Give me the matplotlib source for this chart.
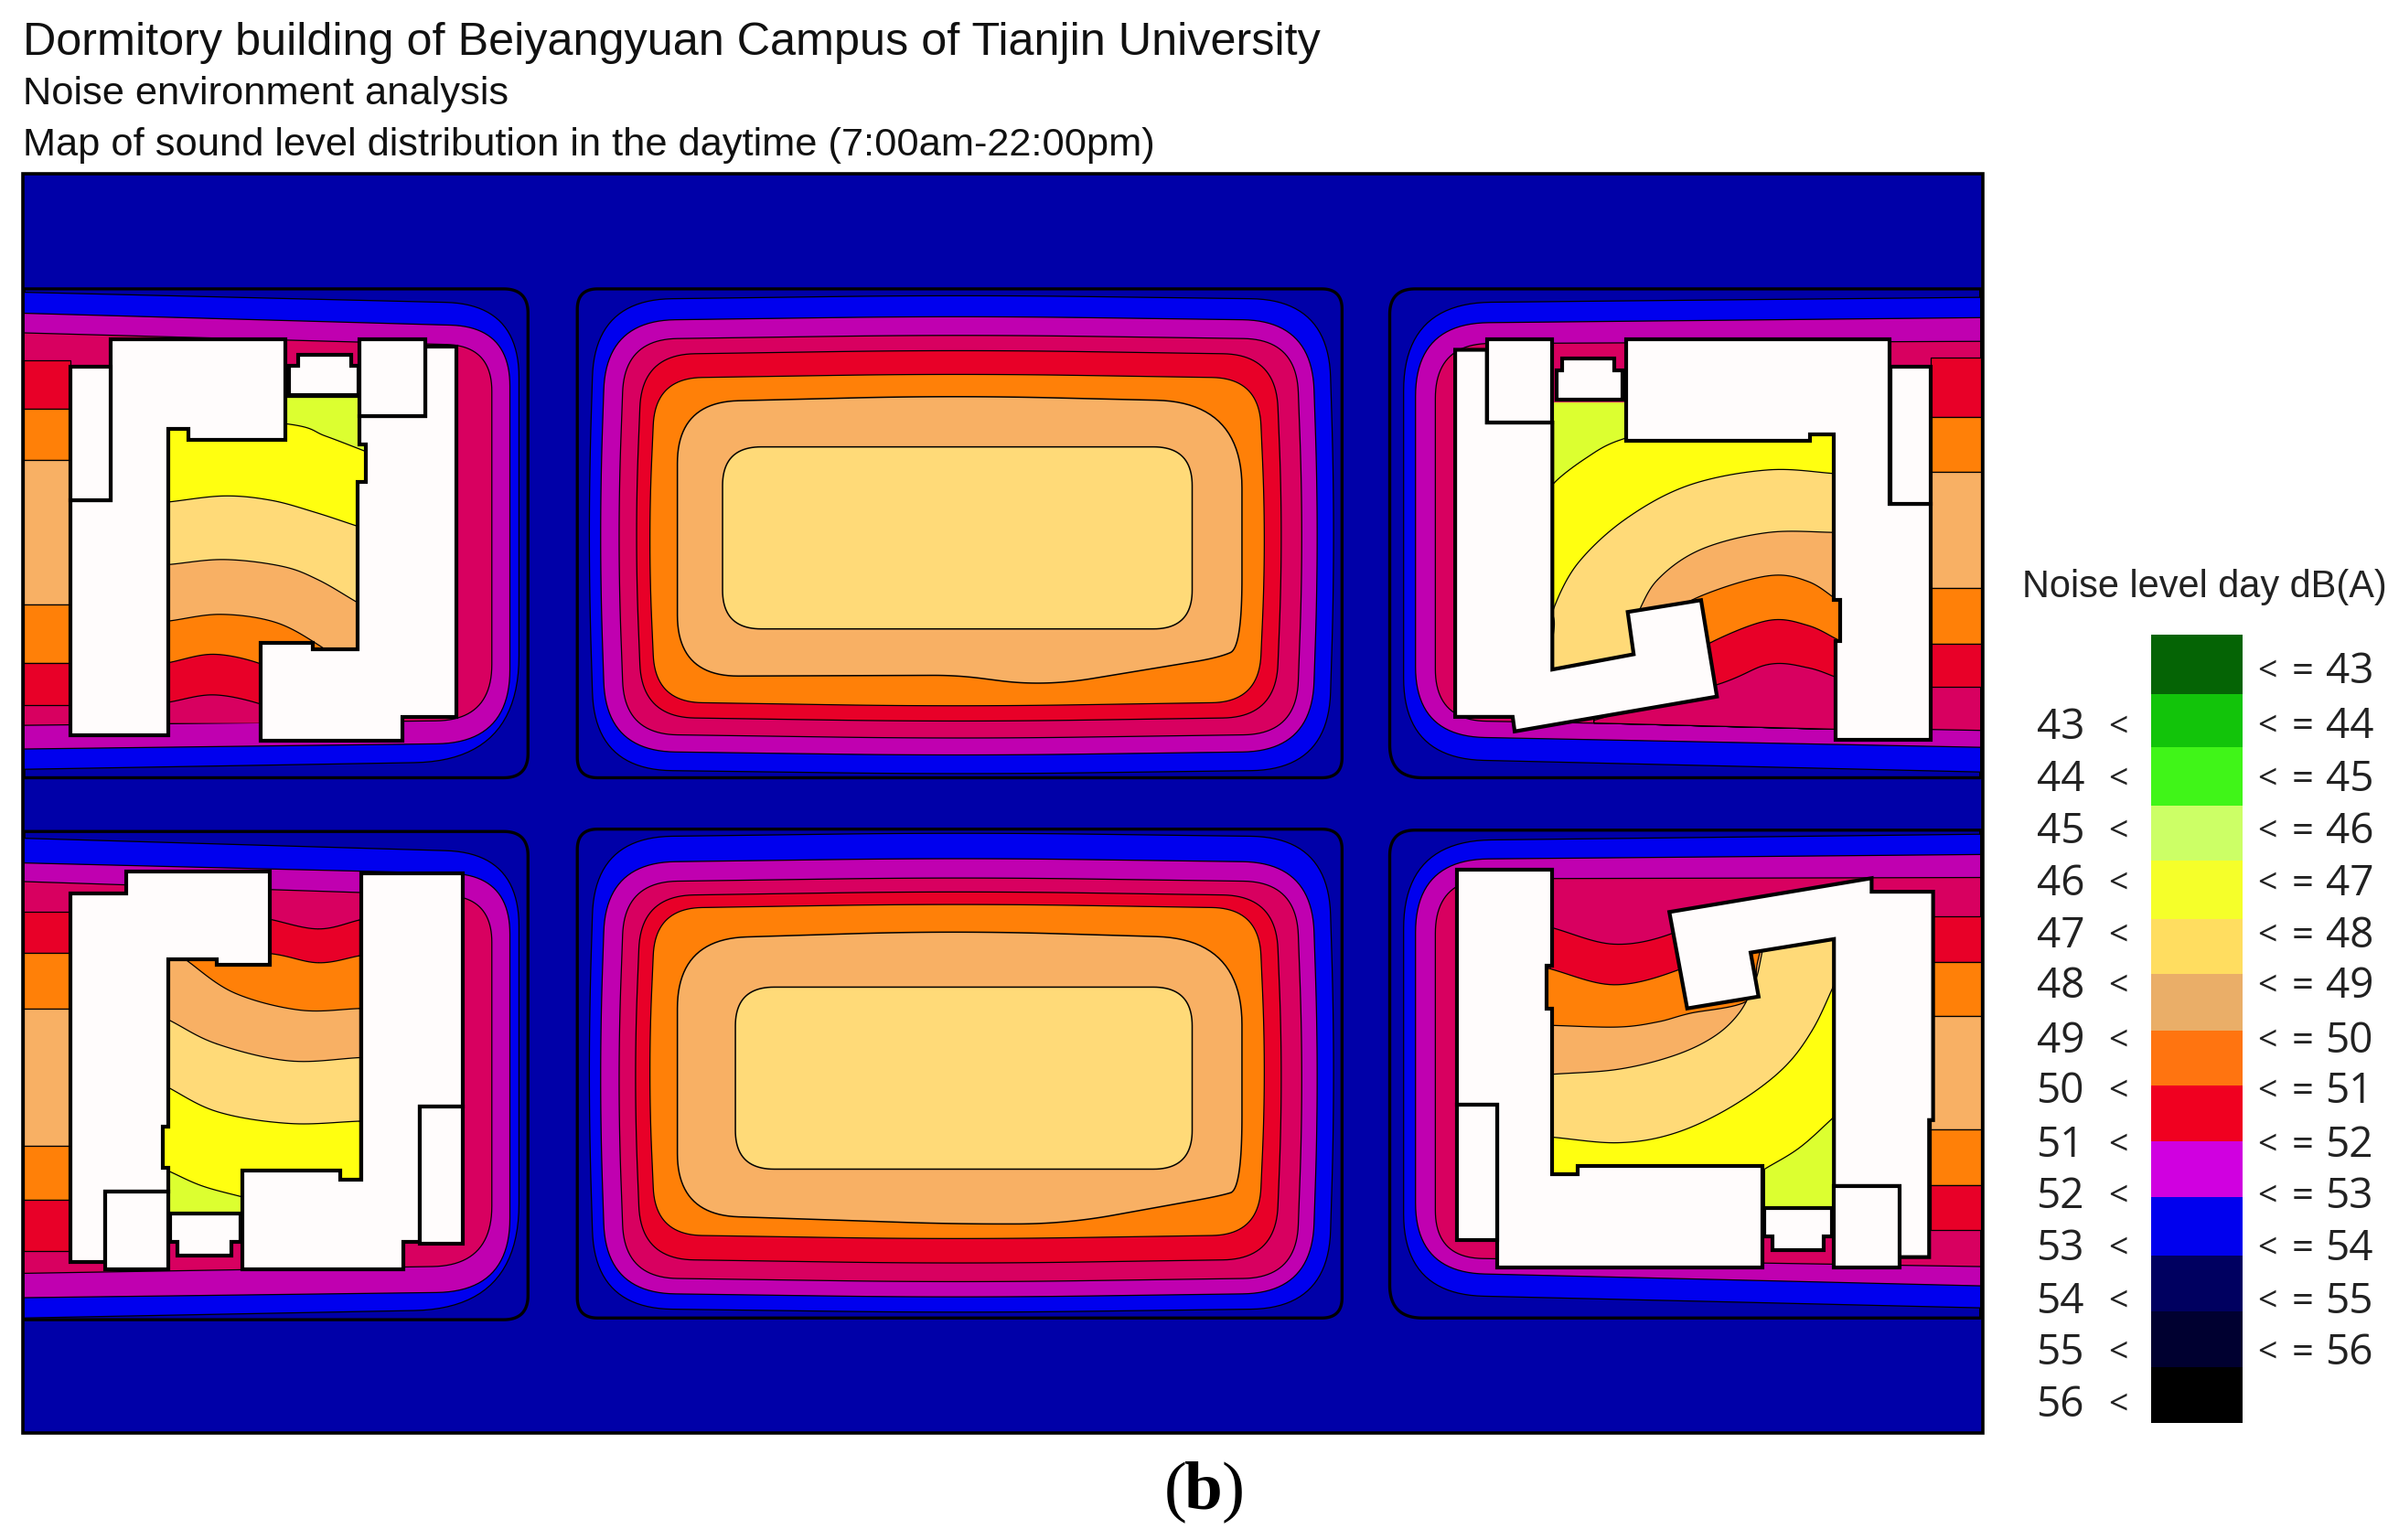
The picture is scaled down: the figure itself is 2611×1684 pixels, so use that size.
# ------------------ 1. IMPORT LIBRARIES ------------------
import numpy as np
import matplotlib
matplotlib.use("Agg")
import matplotlib.pyplot as plt
from matplotlib.patches import Rectangle

# ------------------ 2. COLOURS ------------------
BASE = "#0000A8"
BLUE = "#0000EE"
PURPLE = "#C000B0"
CRIMSON = "#D80060"
RED = "#E80028"
ORANGE = "#FF8008"
TAN = "#F8B064"
PALE = "#FFDA78"
YELLOW = "#FFFF10"
LIME = "#DCFF30"
WHITE = "#FFFCFC"

# ------------------ 3. DATA (crop coordinates, one crop for each block) ------------------
# crop = left, top, x scale, y scale
crop_tl = (0, 290, 2.529, 2.703)
crop_tr = (1500, 290, 2.306, 2.703)
crop_bl = (0, 890, 2.529, 2.703)
crop_br = (1500, 890, 2.306, 2.703)
crop_tm = (620, 290, 1.782, 2.703)
crop_bm = (620, 890, 1.782, 2.703)

map_frame = (25, 190, 2168, 1567)

# outer zones, (x, y, corner radius)
tl_block = [(66, 70), (1460, 70, 70), (1460, 1515, 70), (66, 1515)]
tl_blue = [(66, 80), (1435, 115, 210), (1435, 1465, 300), (66, 1490)]
tl_purple = [(66, 142), (1410, 182, 170), (1410, 1412, 210), (66, 1430)]
tl_crimson = [(66, 200), (1360, 238, 130), (1360, 1345, 160), (66, 1360)]
tl_strip_y = [280, 425, 575, 1003, 1175, 1300]
tl_strip_c = [RED, ORANGE, TAN, ORANGE, RED]

tr_block = [(1535, 70), (45, 70, 70), (45, 1515, 90), (1535, 1515)]
tr_blue = [(1535, 95), (80, 112, 240), (80, 1458, 220), (1535, 1498)]
tr_purple = [(1535, 155), (110, 172, 200), (110, 1392, 190), (1535, 1425)]
tr_crimson = [(1535, 225), (160, 232, 150), (160, 1345, 140), (1535, 1375)]
tr_strip_y = [272, 450, 612, 955, 1120, 1245]
tr_strip_c = [RED, ORANGE, TAN, ORANGE, RED]

bl_block = [(66, 52), (1460, 52, 70), (1460, 1495, 70), (66, 1495)]
bl_blue = [(66, 72), (1435, 115, 210), (1435, 1462, 300), (66, 1490)]
bl_purple = [(66, 145), (1410, 180, 170), (1410, 1412, 210), (66, 1430)]
bl_crimson = [(66, 200), (1360, 245, 130), (1360, 1335, 170), (66, 1358)]
bl_strip_y = [288, 412, 575, 980, 1142, 1293]
bl_strip_c = [RED, ORANGE, TAN, ORANGE, RED]

br_block = [(1535, 48), (45, 48, 70), (45, 1490, 90), (1535, 1490)]
br_blue = [(1535, 60), (80, 80, 240), (80, 1420, 220), (1535, 1460)]
br_purple = [(1535, 120), (110, 135, 200), (110, 1355, 190), (1535, 1395)]
br_crimson = [(1535, 188), (160, 192, 150), (160, 1312, 130), (1535, 1338)]
br_strip_y = [302, 437, 598, 932, 1097, 1230]
br_strip_c = [RED, ORANGE, TAN, ORANGE, RED]

# courtyard curves, each colour fills from its curve down to the yard bottom
# yard = x0, y0, x1, bottom at x1, bottom at x0
tl_yard = (465, 390, 1015, 1355, 1355)
tl_curves = [
    (LIME, [(465, 390), (1015, 390)]),
    (YELLOW, [(465, 440), (800, 470), (900, 505), (1015, 552)]),
    (PALE, [(465, 700), (620, 682), (750, 695), (870, 730), (990, 772)]),
    (TAN, [(465, 885), (620, 870), (780, 890), (880, 930), (990, 998)]),
    (ORANGE, [(465, 1052), (610, 1032), (760, 1055), (880, 1122), (990, 1210)]),
    (RED, [(465, 1175), (590, 1150), (720, 1178), (800, 1230)]),
    (CRIMSON, [(465, 1292), (590, 1270), (720, 1297), (800, 1340)]),
]

tr_yard = (455, 405, 1180, 1372, 1350)
tr_curves = [
    (LIME, [(560, 1300), (455, 1200), (455, 405), (1180, 405)]),
    (YELLOW, [(560, 1300), (455, 1200), (455, 700), (455, 650), (540, 570), (630, 515), (800, 470), (1180, 470)]),
    (PALE, [(560, 1300), (460, 1200), (460, 1060), (460, 1010), (520, 880), (640, 750), (800, 650), (1000, 605),
            (1180, 617)]),
    (TAN, [(665, 1040), (720, 930), (830, 840), (1000, 790), (1180, 790)]),
    (ORANGE, [(700, 1060), (835, 975), (1000, 918), (1100, 935), (1180, 995)]),
    (RED, [(780, 1180), (855, 1115), (1000, 1050), (1100, 1065), (1180, 1110)]),
    (CRIMSON, [(560, 1345), (870, 1240), (1000, 1180), (1100, 1190), (1180, 1222)]),
]

bl_yard = (450, 200, 995, 1180, 1180)
bl_curves = [
    (RED, [(740, 310), (880, 340), (1000, 312)]),
    (ORANGE, [(520, 405), (740, 412), (880, 440), (1000, 418)]),
    (TAN, [(460, 380), (525, 440), (650, 530), (830, 580), (1000, 575)]),
    (PALE, [(465, 608), (600, 680), (800, 730), (1000, 720)]),
    (YELLOW, [(450, 800), (600, 880), (800, 915), (1000, 908)]),
    (LIME, [(465, 1055), (560, 1100), (680, 1135)]),
]

br_yard = (440, 190, 1175, 1165, 1165)
br_curves = [
    (RED, [(450, 335), (610, 385), (760, 352), (900, 260)]),
    (ORANGE, [(440, 455), (610, 505), (775, 460), (900, 380)]),
    (TAN, [(450, 625), (620, 630), (720, 615), (800, 590), (950, 550), (972, 440), (1000, 300)]),
    (PALE, [(450, 770), (620, 755), (760, 715), (860, 660), (925, 590), (965, 500), (982, 420), (1000, 300)]),
    (YELLOW, [(450, 955), (620, 972), (760, 945), (900, 870), (1030, 760), (1110, 640), (1175, 480)]),
    (LIME, [(990, 1050), (1080, 985), (1175, 885)]),
]

# middle blocks, x0, y0, x1, y1, radius from outside to inside
tm_block = (20, 70, 1510, 1515, 50)
tm_rings = [
    (BLUE, 40, 88, 1497, 1505, 190),
    (PURPLE, 62, 150, 1465, 1450, 170),
    (CRIMSON, 98, 205, 1435, 1400, 130),
    (RED, 132, 250, 1395, 1350, 130),
    (ORANGE, 158, 320, 1362, 1305, 115),
]
tm_tan = [(215, 405, 150), (750, 385, 250), (1315, 405, 210), (1315, 1130, 170), (1270, 1160, 60), (930, 1245, 120),
          (760, 1212, 60), (215, 1215, 150)]
tm_pale = [(303, 537, 95), (1218, 537, 95), (1218, 1075, 95), (303, 1075, 95)]

bm_block = (20, 45, 1510, 1490, 50)
bm_rings = [
    (BLUE, 40, 55, 1497, 1475, 190),
    (PURPLE, 62, 130, 1465, 1430, 170),
    (CRIMSON, 98, 187, 1435, 1385, 130),
    (RED, 130, 228, 1395, 1330, 130),
    (ORANGE, 158, 265, 1362, 1258, 115),
]
bm_tan = [(215, 370, 170), (750, 345, 250), (1315, 370, 210), (1315, 1110, 180), (1270, 1130, 60), (970, 1212, 120),
          (750, 1212, 120), (215, 1185, 150)]
bm_pale = [(328, 512, 95), (1218, 512, 95), (1218, 1050, 95), (328, 1050, 95)]

# buildings
tl_buildings = [
    [(305, 220), (790, 220), (790, 515), (520, 515), (520, 485), (465, 485), (465, 1390), (195, 1390),
     (195, 695), (305, 695)],
    [(195, 300), (305, 300), (305, 695), (195, 695)],
    [(800, 298), (825, 298), (825, 265), (970, 265), (970, 298), (992, 298), (992, 385), (800, 385)],
    [(1175, 240), (1262, 240), (1262, 1335), (1112, 1335), (1112, 1405), (720, 1405), (720, 1115),
     (865, 1115), (865, 1135), (990, 1135), (990, 640), (1012, 640), (1012, 530), (995, 530), (995, 445),
     (1175, 445)],
    [(995, 220), (1175, 220), (1175, 445), (995, 445)],
]
tr_buildings = [
    [(210, 250), (290, 250), (290, 465), (455, 465), (455, 1195), (660, 1150), (645, 1025), (830, 990),
     (870, 1275), (360, 1378), (355, 1335), (210, 1335)],
    [(290, 220), (455, 220), (455, 465), (290, 465)],
    [(465, 310), (480, 310), (480, 275), (610, 275), (610, 310), (632, 310), (632, 397), (465, 397)],
    [(640, 220), (1305, 220), (1305, 705), (1410, 705), (1410, 1402), (1170, 1402), (1170, 1110),
     (1180, 1110), (1180, 990), (1165, 990), (1165, 500), (1105, 500), (1105, 520), (640, 520)],
    [(1308, 300), (1410, 300), (1410, 705), (1308, 705)],
]
bl_buildings = [
    [(350, 170), (745, 170), (745, 445), (600, 445), (600, 430), (465, 430), (465, 925), (450, 925),
     (450, 1045), (465, 1045), (465, 1115), (290, 1115), (290, 1325), (195, 1325), (195, 235), (350, 235)],
    [(290, 1115), (465, 1115), (465, 1345), (290, 1345)],
    [(470, 1180), (665, 1180), (665, 1265), (640, 1265), (640, 1305), (490, 1305), (490, 1265), (470, 1265)],
    [(670, 1055), (940, 1055), (940, 1080), (1000, 1080), (1000, 175), (1280, 175), (1280, 865), (1160, 865),
     (1160, 1265), (1115, 1265), (1115, 1345), (670, 1345)],
    [(1160, 865), (1280, 865), (1280, 1270), (1160, 1270)],
]
br_buildings = [
    [(215, 165), (455, 165), (455, 450), (440, 450), (440, 575), (455, 575), (455, 1065), (520, 1065),
     (520, 1040), (985, 1040), (985, 1340), (315, 1340), (315, 860), (215, 860)],
    [(215, 860), (315, 860), (315, 1260), (215, 1260)],
    [(990, 1165), (1160, 1165), (1160, 1250), (1140, 1250), (1140, 1290), (1010, 1290), (1010, 1250), (990, 1250)],
    [(750, 290), (1260, 190), (1260, 230), (1415, 230), (1415, 905), (1405, 905), (1405, 1310), (1330, 1310),
     (1330, 1100), (1165, 1100), (1165, 370), (955, 410), (975, 540), (795, 575)],
    [(1165, 1100), (1330, 1100), (1330, 1340), (1165, 1340)],
]

# legend
legend_levels = [43, 44, 45, 46, 47, 48, 49, 50, 51, 52, 53, 54, 55, 56]
legend_colors = ["#056405", "#12C40A", "#40F518", "#CCFF66", "#F5FF2A", "#FFDD60", "#EAAE68",
                 "#FF7410", "#F00020", "#D000E0", "#0000EE", "#000060", "#000030", "#000000"]
legend_edges = [694, 759, 817, 881, 941, 1005, 1065, 1127, 1187, 1248, 1309, 1373, 1434, 1495, 1556]
legend_right_y = [735, 795, 853, 910, 967, 1024, 1079, 1139, 1194, 1253, 1309, 1366, 1424, 1480]
legend_left_y = [796, 853, 910, 967, 1024, 1079, 1139, 1194, 1253, 1309, 1366, 1424, 1480, 1537]

title_lines = ["Dormitory building of Beiyangyuan Campus of Tianjin University",
               "Noise environment analysis",
               "Map of sound level distribution in the daytime (7:00am-22:00pm)"]


# ------------------ 4. HELPERS ------------------
def to_px(pts, crop):
    x0, y0, sx, sy = crop
    out = []
    for p in pts:
        r = p[2] / ((sx + sy) / 2) if len(p) > 2 else 0
        out.append((x0 + p[0] / sx, y0 + p[1] / sy, r))
    return out


def rounded(pts):
    # closed outline with a quadratic corner wherever a radius is given
    line = []
    n = len(pts)
    for i in range(n):
        x, y, r = pts[i]
        if r == 0:
            line.append((x, y))
            continue
        here = np.array([x, y])
        a = np.array(pts[i - 1][:2]) - here
        b = np.array(pts[(i + 1) % n][:2]) - here
        p0 = here + a / np.linalg.norm(a) * min(r, np.linalg.norm(a) / 2)
        p2 = here + b / np.linalg.norm(b) * min(r, np.linalg.norm(b) / 2)
        for t in np.linspace(0, 1, 24):
            line.append(tuple((1 - t) ** 2 * p0 + 2 * t * (1 - t) * here + t ** 2 * p2))
    return np.array(line)


def smooth(pts):
    # Catmull-Rom through the read points
    p = np.array(pts, dtype=float)
    if len(p) < 3:
        return p
    p = np.vstack([2 * p[0] - p[1], p, 2 * p[-1] - p[-2]])
    line = []
    for i in range(1, len(p) - 2):
        for t in np.linspace(0, 1, 16):
            line.append(0.5 * (2 * p[i] + (p[i + 1] - p[i - 1]) * t
                               + (2 * p[i - 1] - 5 * p[i] + 4 * p[i + 1] - p[i + 2]) * t ** 2
                               + (3 * p[i] - p[i - 1] - 3 * p[i + 1] + p[i + 2]) * t ** 3))
    return np.array(line)


def side_block(block, blue, purple, crimson, strip_y, strip_c, strip_x, yard, curves, buildings, crop):
    ax.fill(*rounded(to_px(block, crop)).T, fc=BASE, ec="black", lw=2.4)
    for zone, color in [(blue, BLUE), (purple, PURPLE), (crimson, CRIMSON)]:
        ax.fill(*rounded(to_px(zone, crop)).T, fc=color, ec="black", lw=0.9)
    x0, y0, sx, sy = crop
    for i, color in enumerate(strip_c):
        ax.add_patch(Rectangle((x0 + strip_x[0] / sx, y0 + strip_y[i] / sy), (strip_x[1] - strip_x[0]) / sx,
                               (strip_y[i + 1] - strip_y[i]) / sy, fc=color, ec="black", lw=0.9))
    # courtyard bands are painted from the far side to the near side
    clip = Rectangle((x0 + yard[0] / sx, y0 + yard[1] / sy), (yard[2] - yard[0]) / sx, (yard[3] - yard[1]) / sy,
                     transform=ax.transData)
    for color, curve in curves:
        line = smooth([(x0 + c[0] / sx, y0 + c[1] / sy) for c in curve])
        # bottom edge of the band can slope, it follows the zone below
        first_x = (line[0][0] - x0) * sx
        share = (first_x - yard[0]) / (yard[2] - yard[0])
        bottom_first = y0 + (yard[4] + (yard[3] - yard[4]) * share) / sy
        poly = np.vstack([line, [(x0 + yard[2] / sx, line[-1][1]), (x0 + yard[2] / sx, y0 + yard[3] / sy),
                                 (line[0][0], bottom_first)]])
        for patch in ax.fill(*poly.T, fc=color, ec="black", lw=0.9):
            patch.set_clip_path(clip)
    for shape in buildings:
        pts = np.array([(x0 + p[0] / sx, y0 + p[1] / sy) for p in shape])
        ax.fill(*pts.T, fc=WHITE, ec="black", lw=3.0, joinstyle="miter")


def ring(x0, y0, x1, y1, r, bow=0):
    if bow == 0:
        return [(x0, y0, r), (x1, y0, r), (x1, y1, r), (x0, y1, r)]
    # edges bulge a little in the middle, as the contours do
    xm, ym = (x0 + x1) / 2, (y0 + y1) / 2
    return [(x0 + bow, y0 + bow, r), (xm, y0, 300), (x1 - bow, y0 + bow, r), (x1, ym, 300),
            (x1 - bow, y1 - bow, r), (xm, y1, 300), (x0 + bow, y1 - bow, r), (x0, ym, 300)]


def middle_block(block, rings, tan, pale, crop):
    ax.fill(*rounded(to_px(ring(*block), crop)).T, fc=BASE, ec="black", lw=2.4)
    for color, x0, y0, x1, y1, r in rings:
        ax.fill(*rounded(to_px(ring(x0, y0, x1, y1, r, bow=14), crop)).T, fc=color, ec="black", lw=0.9)
    ax.fill(*rounded(to_px(tan, crop)).T, fc=TAN, ec="black", lw=1.1)
    ax.fill(*rounded(to_px(pale, crop)).T, fc=PALE, ec="black", lw=1.1)


# ------------------ 5. FIGURE ------------------
fig = plt.figure(figsize=(26.11, 16.84), dpi=100, facecolor="white")
ax = fig.add_axes([0, 0, 1, 1])
ax.set_xlim(0, 2611)
ax.set_ylim(1684, 0)
ax.axis("off")

# ------------------ 6. MAP ------------------
ax.add_patch(Rectangle((map_frame[0], map_frame[1]), map_frame[2] - map_frame[0], map_frame[3] - map_frame[1],
                       fc=BASE, ec="none"))

side_block(tl_block, tl_blue, tl_purple, tl_crimson, tl_strip_y, tl_strip_c, (66, 195), tl_yard, tl_curves,
           tl_buildings, crop_tl)
side_block(tr_block, tr_blue, tr_purple, tr_crimson, tr_strip_y, tr_strip_c, (1410, 1535), tr_yard, tr_curves,
           tr_buildings, crop_tr)
side_block(bl_block, bl_blue, bl_purple, bl_crimson, bl_strip_y, bl_strip_c, (66, 195), bl_yard, bl_curves,
           bl_buildings, crop_bl)
side_block(br_block, br_blue, br_purple, br_crimson, br_strip_y, br_strip_c, (1410, 1535), br_yard, br_curves,
           br_buildings, crop_br)
middle_block(tm_block, tm_rings, tm_tan, tm_pale, crop_tm)
middle_block(bm_block, bm_rings, bm_tan, bm_pale, crop_bm)

ax.add_patch(Rectangle((map_frame[0], map_frame[1]), map_frame[2] - map_frame[0], map_frame[3] - map_frame[1],
                       fc="none", ec="black", lw=2.6, zorder=5))

# ------------------ 7. TITLES ------------------
ax.text(25, 60, title_lines[0], family="Liberation Sans", fontsize=36.3, color="#111111", va="baseline")
ax.text(25, 114, title_lines[1], family="Liberation Sans", fontsize=31.2, color="#111111", va="baseline")
ax.text(25, 170, title_lines[2], family="Liberation Sans", fontsize=31.2, color="#111111", va="baseline")

# ------------------ 8. LEGEND ------------------
ax.text(2610, 642, "Noise level day dB(A)", family="Liberation Sans", fontsize=29.9, color="#222222",
        ha="right", va="center")
ax.bar([2402] * len(legend_colors), np.diff(legend_edges), bottom=legend_edges[:-1], width=100, color=legend_colors)
for level, y in zip(legend_levels, legend_right_y):
    ax.text(2468, y, "<", family="Open Sans", fontsize=27, color="#222222", ha="left", va="center")
    ax.text(2506, y, "=", family="Open Sans", fontsize=30, color="#222222", ha="left", va="center")
    ax.text(2595, y, str(level), family="Open Sans", fontsize=33, color="#222222", ha="right", va="center")
for level, y in zip(legend_levels, legend_left_y):
    ax.text(2279, y, str(level), family="Open Sans", fontsize=33, color="#222222", ha="right", va="center")
    ax.text(2305, y, "<", family="Open Sans", fontsize=27, color="#222222", ha="left", va="center")

# ------------------ 9. PANEL LABEL ------------------
ax.text(1273, 1650, "(", family="Liberation Serif", fontsize=54, ha="left", va="baseline")
ax.text(1295, 1650, "b", family="Liberation Serif", fontsize=54, fontweight="bold", ha="left", va="baseline")
ax.text(1361, 1650, ")", family="Liberation Serif", fontsize=54, ha="right", va="baseline")

# ------------------ 10. SAVE ------------------
fig.savefig("out.png", dpi=100)
